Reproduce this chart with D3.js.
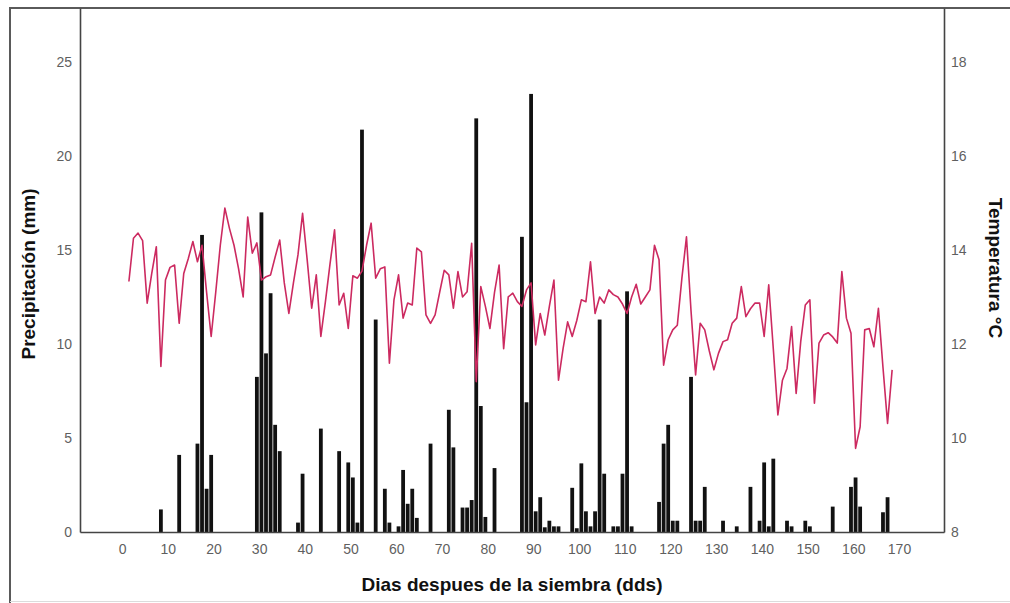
<!DOCTYPE html>
<html>
<head>
<meta charset="utf-8">
<script src="https://cdn.jsdelivr.net/npm/d3@7"></script>
<style>
  html, body { margin: 0; padding: 0; background: #fff; }
  svg { display: block; font-family: "Liberation Sans", Arial, sans-serif; }
</style>
</head>
<body>
<svg id="chart" width="1010" height="603"></svg>
<script>
// Daily rainfall (mm) on the days it rained
const rainDays = [8, 12, 16, 17, 18, 19, 29, 30, 31, 32, 33, 34, 38, 39, 43, 47, 49, 50, 51, 52,
  55, 57, 58, 60, 61, 62, 63, 64, 67, 71, 72, 74, 75, 76, 77, 78, 79, 81, 87, 88,
  89, 90, 91, 92, 93, 94, 95, 98, 99, 100, 101, 102, 103, 104, 105, 107, 108, 109, 110, 111,
  117, 118, 119, 120, 121, 124, 125, 126, 127, 131, 134, 137, 139, 140, 141, 142, 145, 146, 149, 150,
  155, 159, 160, 161, 166, 167];
const rainMm = [1.2, 4.1, 4.7, 15.8, 2.3, 4.1, 8.25, 17.0, 9.5, 12.7, 5.7, 4.3, 0.5, 3.1, 5.5, 4.3, 3.7, 2.9, 0.5, 21.4,
  11.3, 2.3, 0.5, 0.3, 3.3, 1.5, 2.3, 0.75, 4.7, 6.5, 4.5, 1.3, 1.3, 1.7, 22.0, 6.7, 0.8, 3.4, 15.7, 6.9,
  23.3, 1.1, 1.85, 0.25, 0.6, 0.3, 0.3, 2.35, 0.2, 3.65, 1.1, 0.3, 1.1, 11.3, 3.1, 0.3, 0.3, 3.1, 12.8, 0.3,
  1.6, 4.7, 5.7, 0.6, 0.6, 8.25, 0.6, 0.6, 2.4, 0.6, 0.3, 2.4, 0.6, 3.7, 0.3, 3.9, 0.6, 0.3, 0.6, 0.3,
  1.35, 2.4, 2.9, 1.35, 1.05, 1.85];

// Mean daily temperature (°C), one value per day starting at day 1
const tempFirstDay = 1;
const tempC = [
  13.33, 14.25, 14.36, 14.2, 12.87, 13.5, 14.07, 11.52, 13.36, 13.63,
  13.68, 12.44, 13.5, 13.82, 14.18, 13.75, 14.1, 13.1, 12.16, 13.1,
  14.1, 14.89, 14.46, 14.1, 13.6, 13.0, 14.7, 13.93, 14.15, 13.36,
  13.43, 13.47, 13.85, 14.21, 13.3, 12.65, 13.3, 13.9, 14.78, 13.8,
  12.76, 13.47, 12.16, 12.9, 13.7, 14.43, 12.83, 13.08, 12.33, 13.45,
  13.4, 13.55, 14.1, 14.57, 13.4, 13.6, 13.64, 11.59, 12.94, 13.47,
  12.55, 12.87, 12.83, 14.04, 13.96, 12.62, 12.44, 12.62, 13.1, 13.57,
  13.47, 12.76, 13.54, 13.0, 13.11, 14.14, 11.2, 13.22, 12.8, 12.33,
  13.1, 13.68, 11.9, 13.0, 13.08, 12.9, 12.8, 13.15, 13.3, 11.98,
  12.65, 12.19, 12.8, 13.36, 11.23, 11.9, 12.47, 12.16, 12.5, 12.94,
  12.9, 13.75, 12.65, 13.0, 12.87, 13.15, 13.05, 13.0, 12.85, 12.65,
  13.0, 13.27, 12.85, 13.0, 13.15, 14.1, 13.79, 11.55, 12.09, 12.3,
  12.4, 13.4, 14.28, 12.7, 11.34, 12.44, 12.3, 11.85, 11.45, 11.8,
  12.05, 12.09, 12.44, 12.55, 13.22, 12.58, 12.75, 12.87, 12.87, 12.16,
  13.26, 11.9, 10.49, 11.23, 11.48, 12.37, 10.95, 12.05, 12.83, 12.94,
  10.74, 12.02, 12.19, 12.24, 12.15, 12.02, 13.54, 12.55, 12.23, 9.78,
  10.24, 12.3, 12.33, 11.94, 12.76, 11.5, 10.31, 11.45
];

// Axis tick values
const dayTicks = [0, 10, 20, 30, 40, 50, 60, 70, 80, 90, 100, 110, 120, 130, 140, 150, 160, 170];
const rainTicks = [0, 5, 10, 15, 20, 25];
const tempTicks = [8, 10, 12, 14, 16, 18];

const svg = d3.select("#chart");
const plot = { left: 80, right: 944, top: 8, bottom: 532 };

const x = d3.scaleLinear().domain([-9.2, 179.85]).range([plot.left, plot.right]);
const yRain = d3.scaleLinear().domain([0, 27.87]).range([plot.bottom, plot.top]);
const yTemp = d3.scaleLinear().domain([8, 19.148]).range([plot.bottom, plot.top]);

// each day's mark sits in the middle of its day interval
const dayMid = d => x(d + 0.5);

// outer frame
svg.append("line").attr("x1", 10).attr("x2", 10).attr("y1", 7).attr("y2", 603)
  .attr("stroke", "#5a5a5a").attr("stroke-width", 2);
svg.append("line").attr("x1", 9).attr("x2", 1010).attr("y1", 8).attr("y2", 8)
  .attr("stroke", "#5a5a5a").attr("stroke-width", 2);
svg.append("line").attr("x1", 10).attr("x2", 1010).attr("y1", 601.5).attr("y2", 601.5)
  .attr("stroke", "#dcdcdc").attr("stroke-width", 1);

// rainfall bars
const barW = 3.8;
svg.append("g").selectAll("rect")
  .data(rainDays.map((d, i) => ({ day: d, mm: rainMm[i] })))
  .join("rect")
  .attr("x", d => dayMid(d.day) - barW / 2)
  .attr("width", barW)
  .attr("y", d => yRain(d.mm))
  .attr("height", d => yRain(0) - yRain(d.mm))
  .attr("fill", "#111");

// temperature line
const line = d3.line()
  .x((t, i) => dayMid(tempFirstDay + i))
  .y(t => yTemp(t));
svg.append("path")
  .datum(tempC)
  .attr("d", line)
  .attr("fill", "none")
  .attr("stroke", "#cc2a60")
  .attr("stroke-width", 1.6)
  .attr("stroke-linejoin", "round");

// axes
function styleAxis(g) {
  g.selectAll("text").attr("fill", "#5f5f5f").style("font-size", "14px")
    .style("font-family", "'Liberation Sans', Arial, sans-serif");
  g.select(".domain").attr("stroke", "#444").attr("stroke-width", 1.6);
}

svg.append("g").attr("transform", `translate(${plot.left},0)`)
  .call(d3.axisLeft(yRain).tickValues(rainTicks).tickSize(0).tickSizeOuter(0).tickPadding(8))
  .call(styleAxis);

svg.append("g").attr("transform", `translate(${plot.right},0)`)
  .call(d3.axisRight(yTemp).tickValues(tempTicks).tickSize(0).tickSizeOuter(0).tickPadding(7))
  .call(styleAxis);

svg.append("g").attr("transform", `translate(0,${plot.bottom})`)
  .call(d3.axisBottom(x).tickValues(dayTicks).tickSize(0).tickSizeOuter(0).tickPadding(12))
  .call(styleAxis);

// axis titles
svg.append("text")
  .attr("transform", `translate(35,${(plot.top + plot.bottom) / 2 + 4}) rotate(-90)`)
  .attr("text-anchor", "middle")
  .style("font-size", "19px").style("font-weight", "bold").attr("fill", "#111")
  .text("Precipitación (mm)");

svg.append("text")
  .attr("transform", `translate(989,${(plot.top + plot.bottom) / 2 - 2}) rotate(90)`)
  .attr("text-anchor", "middle")
  .style("font-size", "19px").style("font-weight", "bold").attr("fill", "#111")
  .text("Temperatura °C");

svg.append("text")
  .attr("x", (plot.left + plot.right) / 2)
  .attr("y", 591)
  .attr("text-anchor", "middle")
  .style("font-size", "19px").style("font-weight", "bold").attr("fill", "#111")
  .text("Dias despues de la siembra (dds)");
</script>
</body>
</html>
